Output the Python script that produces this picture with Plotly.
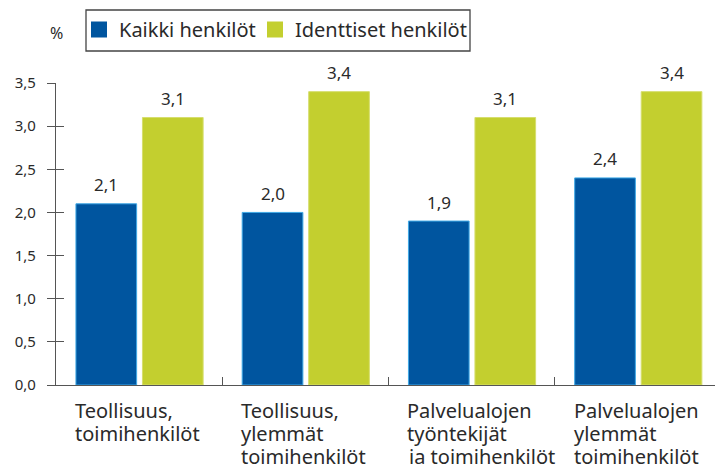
import plotly.graph_objects as go

category_lines = [["Teollisuus,", "toimihenkilöt"],
                  ["Teollisuus,", "ylemmät", "toimihenkilöt"],
                  ["Palvelualojen", "työntekijät", "ja toimihenkilöt"],
                  ["Palvelualojen", "ylemmät", "toimihenkilöt"]]
series_names = ["Kaikki henkilöt", "Identtiset henkilöt"]
kaikki = [2.1, 2.0, 1.9, 2.4]
identtiset = [3.1, 3.4, 3.1, 3.4]
y_ticks = [0, 0.5, 1.0, 1.5, 2.0, 2.5, 3.0, 3.5]

BLUE = "#00559F"
GREEN = "#C3CF2F"
TXT = "#2a2a2a"
AX = "#555555"
FONT = "Noto Sans"

xs = list(range(len(category_lines)))
W = 0.365
OFF_B = -0.38
OFF_G = 0.02

fig = go.Figure()
fig.add_trace(go.Bar(x=xs, y=kaikki, name=series_names[0], width=W, offset=OFF_B,
                     showlegend=False,
                     marker=dict(color=BLUE, line=dict(color="#3FA9E6", width=1))))
fig.add_trace(go.Bar(x=xs, y=identtiset, name=series_names[1], width=W, offset=OFF_G,
                     showlegend=False,
                     marker=dict(color=GREEN, line=dict(color="#D6DE6E", width=1))))
# legend entries (two legends for exact placement)
for nm, col, lg in zip(series_names, [BLUE, GREEN], ["legend", "legend2"]):
    fig.add_trace(go.Scatter(x=[None], y=[None], mode="markers", name=nm, legend=lg,
                             marker=dict(symbol="square", size=16, color=col)))

anns = []
for i, (a, b) in enumerate(zip(kaikki, identtiset)):
    anns.append(dict(x=i + OFF_B + W / 2, y=a, text=f"{a:.1f}".replace(".", ","), showarrow=False,
                     yshift=19, font=dict(size=17, color=TXT, family=FONT)))
    anns.append(dict(x=i + OFF_G + W / 2, y=b, text=f"{b:.1f}".replace(".", ","), showarrow=False,
                     yshift=19, font=dict(size=17, color=TXT, family=FONT)))
    for j, line in enumerate(category_lines[i]):
        anns.append(dict(x=i + OFF_B, y=0, xref="x", yref="y", text=line, showarrow=False,
                         xanchor="left", yanchor="middle", align="left",
                         yshift=-25 - 23 * j, xshift=-3,
                         font=dict(size=20, color=TXT, family=FONT)))
anns.append(dict(xref="paper", yref="paper", x=0, y=1.0, yshift=50, xanchor="center",
                 yanchor="middle", text="%", showarrow=False,
                 font=dict(size=16, color=TXT, family=FONT)))

legend_common = dict(orientation="h", xref="container", yref="container",
                     y=1 - 10 / 464, xanchor="left", yanchor="top",
                     borderwidth=0, bgcolor="rgba(0,0,0,0)",
                     font=dict(size=20, color=TXT, family=FONT))

fig.update_layout(
    width=715, height=464,
    margin=dict(l=56, r=0, t=83, b=79, autoexpand=False),
    paper_bgcolor="white", plot_bgcolor="white",
    separators=",.",
    font=dict(family=FONT, color=TXT),
    barmode="overlay",
    showlegend=True,
    legend=dict(x=79 / 715, **legend_common),
    legend2=dict(x=(79 + 176) / 715, **legend_common),
    shapes=[dict(type="rect", xref="paper", yref="paper",
                 x0=(86 - 56) / 659, x1=(470 - 56) / 659,
                 y0=1 + (83 - 51) / 302, y1=1 + (83 - 10) / 302,
                 line=dict(color="#444444", width=1.3), fillcolor="rgba(0,0,0,0)",
                 layer="below")],
    annotations=anns,
    xaxis=dict(range=[-0.5, 3.464], showgrid=False, zeroline=False,
               showline=True, linecolor=AX, linewidth=1.2, automargin=False,
               tickvals=[0.5, 1.5, 2.5], ticks="inside", ticklen=8, tickcolor=AX,
               showticklabels=False),
    yaxis=dict(range=[0, 3.5], showgrid=False, zeroline=False, automargin=False,
               showline=True, linecolor=AX, linewidth=1.2,
               tickvals=y_ticks, tickformat=".1f", ticks="outside", ticklen=8,
               tickcolor=AX, ticklabelstandoff=8,
               tickfont=dict(size=15, color=TXT, family=FONT)),
    yaxis2=dict(range=[0, 3.5], overlaying="y", side="left", showgrid=False,
                zeroline=False, showline=False, tickvals=y_ticks, ticks="inside",
                ticklen=8, tickcolor=AX, showticklabels=False, anchor="x",
                automargin=False),
)
fig.add_trace(go.Scatter(x=[None], y=[None], yaxis="y2", showlegend=False, hoverinfo="skip"))
fig.write_html("out.html", post_script="document.body.style.margin='0';",
               config={"displayModeBar": False})
